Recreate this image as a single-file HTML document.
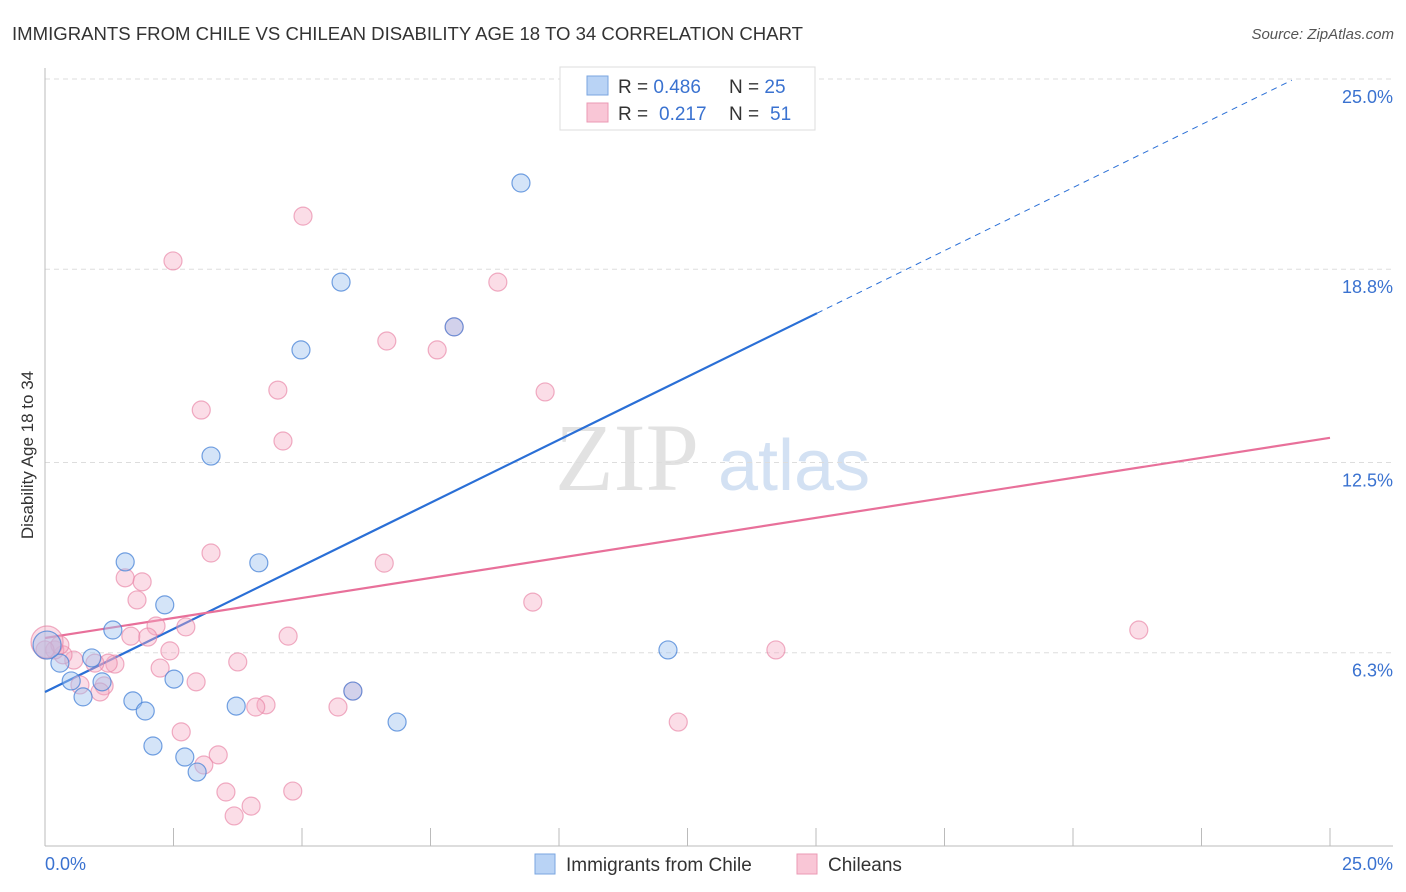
<!DOCTYPE html>
<html><head><meta charset="utf-8"><style>
html,body{margin:0;padding:0;background:#fff;}
svg{display:block;font-family:"Liberation Sans",sans-serif;}
</style></head><body>
<svg id="chart" width="1406" height="892" viewBox="0 0 1406 892">
<text x="12" y="40" font-size="18" fill="#333" textLength="791" lengthAdjust="spacingAndGlyphs">IMMIGRANTS FROM CHILE VS CHILEAN DISABILITY AGE 18 TO 34 CORRELATION CHART</text>
<text x="1394" y="39" font-size="15" fill="#555" font-style="italic" text-anchor="end">Source: ZipAtlas.com</text>
<g>
<text x="555" y="490" font-size="96" font-family="Liberation Serif,serif" fill="#e2e2e2">ZIP</text>
<text x="718" y="490" font-size="72" fill="#d3e1f3">atlas</text>
</g>
<g id="grid"></g>
<g id="axes"></g>
<text transform="translate(33,455) rotate(-90)" font-size="17" fill="#333" text-anchor="middle">Disability Age 18 to 34</text>
<g id="trend"></g>
<g id="points"></g>
<g>
<rect x="560" y="67" width="255" height="63" fill="#fff" stroke="#ddd"/>
<rect x="587" y="76" width="21" height="19" fill="#b9d3f5" stroke="#7aa6e0"/>
<rect x="587" y="103" width="21" height="19" fill="#f9c6d6" stroke="#eb9ab4"/>
<text x="618" y="93" font-size="19" fill="#333">R = <tspan fill="#3a72d0">0.486</tspan><tspan x="729">N = </tspan><tspan fill="#3a72d0">25</tspan></text>
<text x="618" y="120" font-size="19" fill="#333">R = <tspan x="659" fill="#3a72d0">0.217</tspan><tspan x="729">N = </tspan><tspan x="770" fill="#3a72d0">51</tspan></text>
</g>
<g>
<rect x="535" y="854" width="20" height="20" fill="#b9d3f5" stroke="#7aa6e0"/>
<text x="566" y="871" font-size="19" fill="#333">Immigrants from Chile</text>
<rect x="797" y="854" width="20" height="20" fill="#f9c6d6" stroke="#eb9ab4"/>
<text x="828" y="871" font-size="19" fill="#333">Chileans</text>
</g>
</svg>
<script>
const yTicks=[6.3,12.5,18.8,25.0];
const yTickLabels=["6.3%","12.5%","18.8%","25.0%"];
const xTickLabels=["0.0%","25.0%"];
const blueX=[9.26,5.76,4.98,3.23,1.56,4.16,2.33,1.32,0.91,0.29,0.51,1.11,0.74,1.71,1.95,2.51,3.72,2.10,2.72,2.96,6.85,12.12,5.99,7.96,0.04];
const blueY=[21.61,18.38,16.17,12.71,9.26,9.23,7.86,7.04,6.13,5.96,5.38,5.35,4.86,4.73,4.40,5.44,4.56,3.26,2.90,2.41,4.04,6.39,5.05,16.92,6.55];
const pinkX=[5.02,2.49,8.81,6.65,7.63,4.53,9.73,3.04,4.63,3.23,6.60,1.56,1.89,1.79,9.49,21.28,4.73,2.16,2.74,1.67,2.00,2.43,14.22,3.75,1.36,1.23,0.97,2.24,0.56,0.35,0.19,2.94,1.15,0.68,1.07,4.30,4.10,5.70,5.99,7.96,2.65,12.32,3.37,3.09,3.52,4.82,4.01,3.68,0.29,0.0,0.04];
const pinkY=[20.53,19.07,18.38,16.46,16.17,14.86,14.80,14.21,13.20,9.55,9.22,8.74,8.61,8.02,7.95,7.04,6.84,7.17,7.14,6.84,6.81,6.36,6.39,6.00,5.93,5.96,5.96,5.80,6.06,6.23,6.39,5.35,5.22,5.25,5.02,4.60,4.53,4.53,5.05,16.92,3.72,4.04,2.97,2.64,1.76,1.79,1.30,0.98,6.55,6.39,6.65];
const blueTrend=[5.02,0.822]; // intercept, slope
const pinkTrend=[6.78,0.261];
const NS="http://www.w3.org/2000/svg";
const X=v=>45+v/25*1285, Y=v=>846-v/25*767;
function mk(tag,attrs,parent){const e=document.createElementNS(NS,tag);for(const k in attrs)e.setAttribute(k,attrs[k]);parent.appendChild(e);return e;}
const grid=document.getElementById('grid'),axes=document.getElementById('axes'),trend=document.getElementById('trend'),pts=document.getElementById('points');
yTicks.forEach((t,i)=>{
 const l=mk('line',{x1:45,x2:1393,y1:Y(t),y2:Y(t),stroke:'#ddd','stroke-dasharray':'5,4'},grid);
 
 
 const tx=mk('text',{x:1393,y:Y(t)+24,'font-size':18,fill:'#3a72d0','text-anchor':'end'},axes);
 tx.textContent=yTickLabels[i];
 
 
});
let a=mk('line',{x1:45,x2:45,y1:68,y2:846,stroke:'#bbb'},axes);


a=mk('line',{x1:45,x2:1393,y1:846,y2:846,stroke:'#bbb'},axes);


for(let i=0;i<=10;i++){const t=mk('line',{x1:X(i*2.5),x2:X(i*2.5),y1:828,y2:846,stroke:'#bbb'},axes);
 
 }
[0,25].forEach((v,i)=>{const t=mk('text',{x:i?1393:45,y:870,'font-size':18,fill:'#3a72d0','text-anchor':i?'end':'start'},axes);
 t.textContent=xTickLabels[i];
 
 });
let t1=mk('line',{x1:X(0),y1:Y(blueTrend[0]),x2:X(15.02),y2:Y(blueTrend[0]+blueTrend[1]*15.02),stroke:'#2a6fd6','stroke-width':2.2},trend);


const xe=(25-blueTrend[0])/blueTrend[1]-0.05;
let t2=mk('line',{x1:X(15.02),y1:Y(blueTrend[0]+blueTrend[1]*15.02),x2:X(xe),y2:Y(blueTrend[0]+blueTrend[1]*xe),stroke:'#2a6fd6','stroke-width':1,'stroke-dasharray':'6,5'},trend);


let t3=mk('line',{x1:X(0),y1:Y(pinkTrend[0]),x2:X(25),y2:Y(pinkTrend[0]+pinkTrend[1]*25),stroke:'#e8709a','stroke-width':2.2},trend);


pinkX.forEach((x,i)=>{const c=mk('circle',{cx:X(x),cy:Y(pinkY[i]),r:(x===0.04?16:9),fill:'rgba(246,170,195,0.4)',stroke:'rgba(232,130,165,0.65)','stroke-width':1.2},pts);
 
 });
blueX.forEach((x,i)=>{const c=mk('circle',{cx:X(x),cy:Y(blueY[i]),r:(i===24?14:9),fill:'rgba(160,195,240,0.45)',stroke:'rgba(70,130,215,0.75)','stroke-width':1.2},pts);
 
 });
</script>
</body></html>
